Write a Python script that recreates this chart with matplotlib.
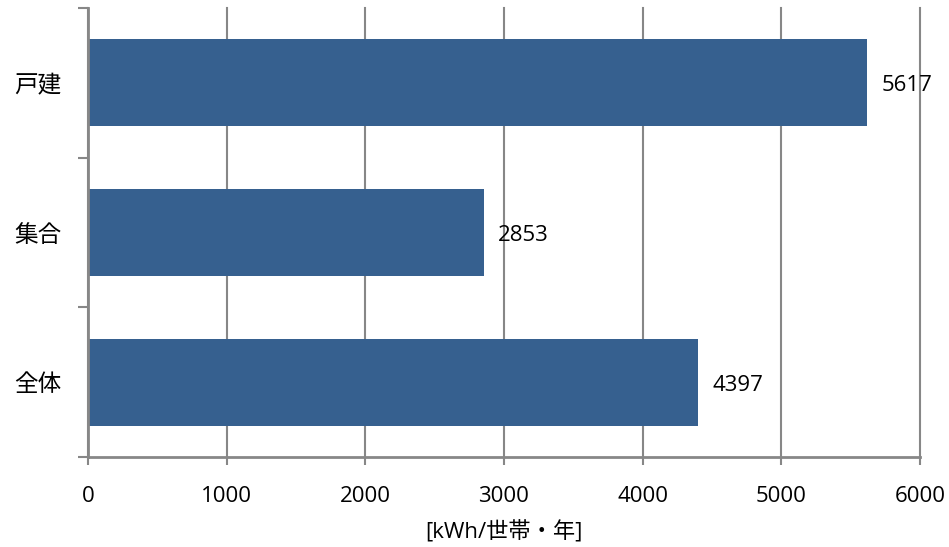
import matplotlib
matplotlib.use("Agg")
import matplotlib.pyplot as plt
from matplotlib.ticker import FixedLocator

plt.rcParams['font.family'] = ['Open Sans', 'Noto Sans CJK JP', 'DejaVu Sans']

categories = ['戸建', '集合', '全体']
values = [5617, 2853, 4397]
xticks = [0, 1000, 2000, 3000, 4000, 5000, 6000]
xlabel = '[kWh/世帯・年]'

bar_color = '#36608f'
grid_color = '#878787'

fig = plt.figure(figsize=(9.49, 5.47), dpi=100)
ax = fig.add_axes([88/949, 1-457/547, (920-88)/949, (457-8)/547])

ypos = list(range(len(categories)))[::-1]
ax.barh(ypos, values, height=0.58, color=bar_color, zorder=3)
for y, v in zip(ypos, values):
    ax.text(v + 105, y - 0.02, str(v), va='center', ha='left', fontsize=16, color='black')

ax.set_xlim(0, 6000)
ax.set_ylim(-0.5, len(categories) - 0.5)
ax.set_xticks(xticks)
ax.set_xticklabels([str(t) for t in xticks], fontsize=16)
ax.set_yticks(ypos)
ax.set_yticklabels(categories, fontsize=17, family=['Noto Sans CJK JP'])
ax.yaxis.set_minor_locator(FixedLocator([-0.5, 0.5, 1.5, 2.5]))
ax.tick_params(axis='y', which='major', length=0, pad=19)
ax.tick_params(axis='y', which='minor', length=7, width=1.5, color=grid_color)
ax.tick_params(axis='x', which='major', length=6, width=1.5, color=grid_color, pad=15)

ax.grid(axis='x', color=grid_color, linewidth=1.5, zorder=0)
for gl in ax.get_xgridlines():
    gl.set_clip_on(False)
ax.set_axisbelow(True)
for s in ['top', 'right']:
    ax.spines[s].set_visible(False)
for s in ['left', 'bottom']:
    ax.spines[s].set_color(grid_color)
    ax.spines[s].set_linewidth(2)
    ax.spines[s].set_zorder(4)

ax.set_xlabel(xlabel, fontsize=16, labelpad=10)

fig.savefig('out.png', dpi=100)
